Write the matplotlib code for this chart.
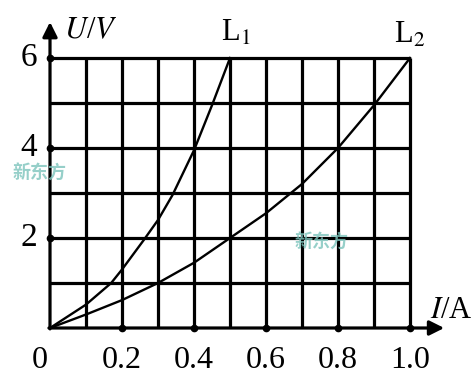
import matplotlib
matplotlib.use("Agg")
import matplotlib.pyplot as plt

# values
l1_i = [0, 0.1, 0.17, 0.2, 0.26, 0.3, 0.34, 0.4, 0.45, 0.5]
l1_u = [0, 0.52, 1.0, 1.3, 1.95, 2.4, 2.95, 3.95, 4.95, 6.0]
l2_i = [0, 0.1, 0.2, 0.3, 0.4, 0.5, 0.6, 0.7, 0.8, 0.9, 1.0]
l2_u = [0, 0.3, 0.62, 1.0, 1.45, 2.0, 2.55, 3.2, 4.0, 4.95, 6.0]
x_ticks = [0.2, 0.4, 0.6, 0.8, 1.0]
x_labels = ["0.2", "0.4", "0.6", "0.8", "1.0"]
y_ticks = [2, 4, 6]
y_labels = ["2", "4", "6"]
x_grid = [0.1 * k for k in range(1, 11)]
y_grid = [1, 2, 3, 4, 5, 6]

plt.rcParams["font.family"] = ["Liberation Serif", "DejaVu Serif"]

fig = plt.figure(figsize=(4.72, 3.75), dpi=100)
ax = fig.add_axes([0, 0, 1, 1])
# pixel mapping: origin at (50, 328), 0.1 A = 36 px, 1 V = 45 px
ax.set_xlim(-50 / 360, 422 / 360)
ax.set_ylim(-47 / 45, 328 / 45)
ax.axis("off")

lw_grid = 2.3
ax.vlines(x_grid, 0, 6, color="black", lw=lw_grid)
ax.hlines(y_grid, 0, 1.0, color="black", lw=lw_grid)

# axes with arrows
ax.annotate("", xy=(1.095, 0), xytext=(-0.003, 0),
            arrowprops=dict(arrowstyle="-|>", color="black", lw=2.3,
                            mutation_scale=22, shrinkA=0, shrinkB=0))
ax.annotate("", xy=(0, 6.8), xytext=(0, -0.02),
            arrowprops=dict(arrowstyle="-|>", color="black", lw=2.3,
                            mutation_scale=22, shrinkA=0, shrinkB=0))

ax.plot(l1_i, l1_u, color="black", lw=1.7)
ax.plot(l2_i, l2_u, color="black", lw=1.7)

# tick dots
ax.plot(x_ticks, [0] * len(x_ticks), "o", color="black", ms=4.5)
ax.plot([0] * len(y_ticks), y_ticks, "o", color="black", ms=4.5)

fs = 23
for x, s in zip(x_ticks, x_labels):
    ax.text(x, -0.72, s, ha="center", va="center", fontsize=fs)
ax.text(-0.028, -0.72, "0", ha="center", va="center", fontsize=fs)
for y, s in zip(y_ticks, y_labels):
    ax.text(-0.035, y, s, ha="right", va="center", fontsize=fs + 1)

ax.text(0.04, 6.6, "$\\mathit{U}$/$\\mathit{V}$", ha="left", va="center",
        fontsize=22, math_fontfamily="stix")
ax.text(1.055, 0.4, "$\\mathit{I}$/A", ha="left", va="center",
        fontsize=22, math_fontfamily="stix")
ax.text(0.515, 6.55, "L$_1$", ha="center", va="center", fontsize=22,
        math_fontfamily="stix")
ax.text(1.0, 6.5, "L$_2$", ha="center", va="center", fontsize=22,
        math_fontfamily="stix")

# faint watermarks
for wx, wy in [(-0.105, 3.45), (0.68, 1.9)]:
    ax.text(wx, wy, "新东方", fontsize=13, color="#7cc4bc", alpha=0.8,
            family=["Noto Sans CJK SC", "DejaVu Sans"], ha="left", va="center",
            fontweight="bold")

fig.savefig("out.png", dpi=100)
